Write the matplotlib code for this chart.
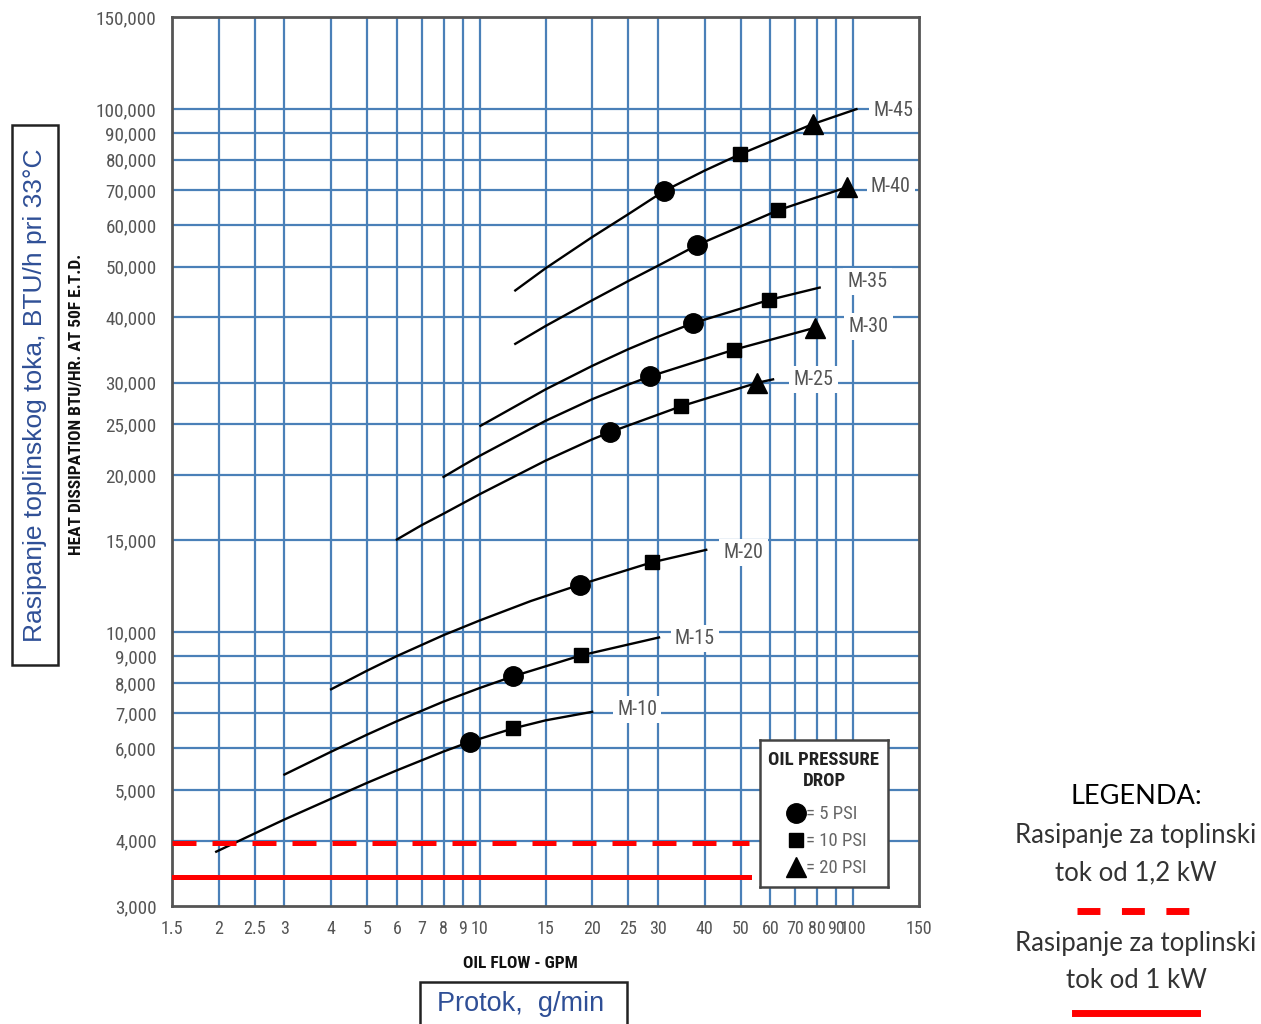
import os
import matplotlib
matplotlib.use("Agg")
import matplotlib.pyplot as plt
import matplotlib.font_manager as fm
from matplotlib.patches import Rectangle
from matplotlib.lines import Line2D

# oil flow (GPM) / heat dissipation (BTU/hr)
m10_flow = [1.97, 2.5, 3, 4, 5, 6, 8, 9.39, 12.3, 15, 20.0]
m10_heat = [3810, 4130, 4390, 4810, 5160, 5450, 5920, 6175, 6555, 6790, 7050]
m15_flow = [3, 4, 5, 6, 8, 10, 12.3, 18.7, 30.2]
m15_heat = [5350, 5915, 6380, 6765, 7375, 7830, 8245, 9040, 9780]
m20_flow = [4, 5, 6, 8, 10, 13.7, 18.5, 28.9, 40.4]
m20_heat = [7785, 8455, 9010, 9880, 10540, 11480, 12330, 13610, 14380]
m25_flow = [6, 7, 8, 10, 15, 20, 22.3, 34.6, 55.4, 61.0]
m25_heat = [15050, 16040, 16860, 18370, 21290, 23380, 24130, 27050, 30000, 30450]
m30_flow = [8, 9, 10, 15, 20, 25, 28.6, 48.0, 78.8]
m30_heat = [19820, 20830, 21750, 25370, 27900, 29760, 30860, 34700, 38200]
m35_flow = [10.05, 15, 20, 25, 30, 37.2, 59.6, 81.3]
m35_heat = [24820, 29130, 32310, 34780, 36730, 38980, 43200, 45600]
m40_flow = [12.45, 15, 20, 25, 30, 38.2, 63.0, 96.0]
m40_heat = [35600, 38500, 43120, 46940, 50200, 54980, 64100, 70900]
m45_flow = [12.45, 15, 20, 25, 31.1, 40, 49.8, 77.8, 102.0]
m45_heat = [45030, 49630, 56950, 63000, 69700, 76300, 82000, 93600, 100000]

# pressure drop markers
psi5_flow = [9.39, 12.3, 18.5, 22.3, 28.6, 37.2, 38.2, 31.1]
psi5_heat = [6175, 8245, 12330, 24130, 30860, 38980, 54980, 69700]
psi10_flow = [12.3, 18.7, 28.9, 34.6, 48.0, 59.6, 63.0, 49.8]
psi10_heat = [6555, 9040, 13610, 27050, 34700, 43200, 64100, 82000]
psi20_flow = [55.4, 78.8, 96.0, 77.8]
psi20_heat = [30000, 38200, 70900, 93600]

model_names = ['M-10', 'M-15', 'M-20', 'M-25', 'M-30', 'M-35', 'M-40', 'M-45']
label_flow = [26.4, 37.7, 50.8, 78.3, 110, 109, 126, 128]
label_heat = [7120, 9740, 14200, 30400, 38400, 46800, 71200, 99500]

# 1,2 kW and 1 kW limits in BTU/h
limit_heat = [3950, 3410]
limit_end_flow = 52.5

x_ticks = [1.5, 2, 2.5, 3, 4, 5, 6, 7, 8, 9, 10, 15, 20, 25, 30, 40, 50, 60, 70, 80, 90, 100, 150]
x_tick_labels = ['1.5', '2', '2.5', '3', '4', '5', '6', '7', '8', '9', '10', '15', '20', '25', '30',
                 '40', '50', '60', '70', '80', '90', '100', '150']
y_ticks = [3000, 4000, 5000, 6000, 7000, 8000, 9000, 10000, 15000, 20000, 25000, 30000,
           40000, 50000, 60000, 70000, 80000, 90000, 100000, 150000]

W, H = 1261, 1024
GRID = '#4a80b8'
BLUE = '#2f4f96'


def find_narrow(bold):
    prefs = ['Liberation Sans Narrow', 'Roboto Condensed', 'DejaVu Sans', 'Open Sans', 'Noto Sans']
    found = {}
    for f in fm.fontManager.ttflist:
        base = os.path.basename(f.fname).lower()
        cond = (f.stretch in ('condensed', 'semi-condensed', 'extra-condensed')
                or 'narrow' in base or 'condensed' in base)
        if not cond or f.style != 'normal' or 'italic' in base or 'oblique' in base:
            continue
        is_bold = 'bold' in base
        if is_bold != bold or 'semibold' in base or 'extrabold' in base:
            continue
        found.setdefault(f.name, f.fname)
    for p in prefs:
        if p in found:
            return found[p]
    return next(iter(found.values()), None)


NARROW_R = find_narrow(False)
NARROW_B = find_narrow(True)
SHRINK = 1.0 if NARROW_R else 0.78


def nf(size, bold=False):
    path = NARROW_B if bold else NARROW_R
    if path:
        return fm.FontProperties(fname=path, size=size)
    return fm.FontProperties(family='DejaVu Sans', size=size * SHRINK,
                             weight='bold' if bold else 'normal')


def px(x, y):
    return x / W, 1 - y / H


fig = plt.figure(figsize=(W / 100, H / 100), dpi=100)
ax = fig.add_axes([172 / W, 1 - 906 / H, 747 / W, 889 / H])
ax.set_xscale('log')
ax.set_yscale('log')
ax.set_xlim(1.5, 150)
ax.set_ylim(3000, 150000)

for v in x_ticks[1:-1]:
    ax.axvline(v, color=GRID, lw=1.6, zorder=1)
for v in y_ticks[1:-1]:
    ax.axhline(v, color=GRID, lw=1.6, zorder=1)

ax.set_xticks(x_ticks)
ax.set_xticklabels(x_tick_labels)
ax.set_yticks(y_ticks)
ax.set_yticklabels([f'{v:,}' for v in y_ticks])
ax.minorticks_off()
ax.tick_params(length=0, labelcolor='#555555')
ax.tick_params(axis='y', pad=11)
ax.tick_params(axis='x', pad=10)
for lab in ax.get_yticklabels():
    lab.set_fontproperties(nf(13.8))
for lab in ax.get_xticklabels():
    lab.set_fontproperties(nf(13))
for s in ax.spines.values():
    s.set_color('#555555')
    s.set_linewidth(2)

flows = [m10_flow, m15_flow, m20_flow, m25_flow, m30_flow, m35_flow, m40_flow, m45_flow]
heats = [m10_heat, m15_heat, m20_heat, m25_heat, m30_heat, m35_heat, m40_heat, m45_heat]
for f, h in zip(flows, heats):
    ax.plot(f, h, color='black', lw=1.7, zorder=3, solid_joinstyle='round')

ax.plot(psi5_flow, psi5_heat, 'o', color='black', ms=14, zorder=4)
ax.plot(psi10_flow, psi10_heat, 's', color='black', ms=9.5, zorder=4)
ax.plot(psi20_flow, psi20_heat, '^', color='black', ms=15, zorder=4)

for name, fx, hy in zip(model_names, label_flow, label_heat):
    ax.text(fx, hy, name, ha='center', va='center', color='#555555',
            fontproperties=nf(14.5), zorder=5,
            bbox=dict(facecolor='white', edgecolor='none', pad=3))

ax.plot([1.5, limit_end_flow], [limit_heat[0]] * 2, color='#ff0000', lw=3.6,
        dashes=(4.8, 3.2), zorder=3, solid_capstyle='butt')
ax.plot([1.5, limit_end_flow], [limit_heat[1]] * 2, color='#ff0000', lw=3.6, zorder=3)

# pressure drop key
key = fig.add_axes([760 / W, 1 - 887 / H, 128 / W, 147 / H])
key.set_xlim(0, 128)
key.set_ylim(147, 0)
key.set_xticks([])
key.set_yticks([])
for s in key.spines.values():
    s.set_color('#444444')
    s.set_linewidth(1.8)
key.text(64, 20, 'OIL PRESSURE', ha='center', va='center', fontproperties=nf(13.5, True),
         color='#222222')
key.text(64, 41, 'DROP', ha='center', va='center', fontproperties=nf(13.5, True),
         color='#222222')
key_markers = ['o', 's', '^']
key_sizes = [14, 10, 15]
key_labels = ['= 5 PSI', '= 10 PSI', '= 20 PSI']
for i, (m, ms, lab) in enumerate(zip(key_markers, key_sizes, key_labels)):
    yy = 73 + i * 27
    key.plot(36, yy, m, color='black', ms=ms)
    key.text(46, yy + 1, lab, ha='left', va='center', fontproperties=nf(13.5), color='#666666')

# axis titles
fig.text(*px(77, 404), 'HEAT DISSIPATION BTU/HR. AT 50F E.T.D.', rotation=90, ha='center',
         va='center', fontproperties=nf(12.5, True), color='#111111')
fig.text(*px(520, 964), 'OIL FLOW - GPM', ha='center', va='center',
         fontproperties=nf(12.5, True), color='#111111')

fig.patches.append(Rectangle(px(12, 665), 46 / W, 540 / H, transform=fig.transFigure,
                             facecolor='white', edgecolor='#222222', lw=1.8))
fig.text(*px(35, 395), 'Rasipanje toplinskog toka, BTU/h pri 33°C', rotation=90, ha='center',
         va='center', fontsize=19, color=BLUE, family=['Liberation Sans', 'DejaVu Sans'])
fig.patches.append(Rectangle(px(420, 1030), 207 / W, 48 / H, transform=fig.transFigure,
                             facecolor='white', edgecolor='#222222', lw=1.8))
fig.text(*px(521, 1004), 'Protok,  g/min', ha='center', va='center', fontsize=19.5, color=BLUE,
         family=['Liberation Sans', 'DejaVu Sans'])

# right legend
LEG = ['Lato', 'DejaVu Sans']
fig.text(*px(1136, 797), 'LEGENDA:', ha='center', va='center', fontsize=19.5, family=LEG)
fig.text(*px(1136, 835), 'Rasipanje za toplinski', ha='center', va='center', fontsize=18.5,
         family=LEG, color='#333333')
fig.text(*px(1136, 873), 'tok od 1,2 kW', ha='center', va='center', fontsize=18.5,
         family=LEG, color='#333333')
fig.lines.append(Line2D([1077 / W, 1192 / W], [1 - 911 / H] * 2, transform=fig.transFigure,
                        color='#ff0000', lw=5, dashes=(3.3, 3.1), solid_capstyle='butt'))
fig.text(*px(1136, 943), 'Rasipanje za toplinski', ha='center', va='center', fontsize=18.5,
         family=LEG, color='#333333')
fig.text(*px(1136, 980), 'tok od 1 kW', ha='center', va='center', fontsize=18.5,
         family=LEG, color='#333333')
fig.lines.append(Line2D([1075 / W, 1197 / W], [1 - 1013 / H] * 2, transform=fig.transFigure,
                        color='#ff0000', lw=5))

fig.savefig('out.png', dpi=100)
